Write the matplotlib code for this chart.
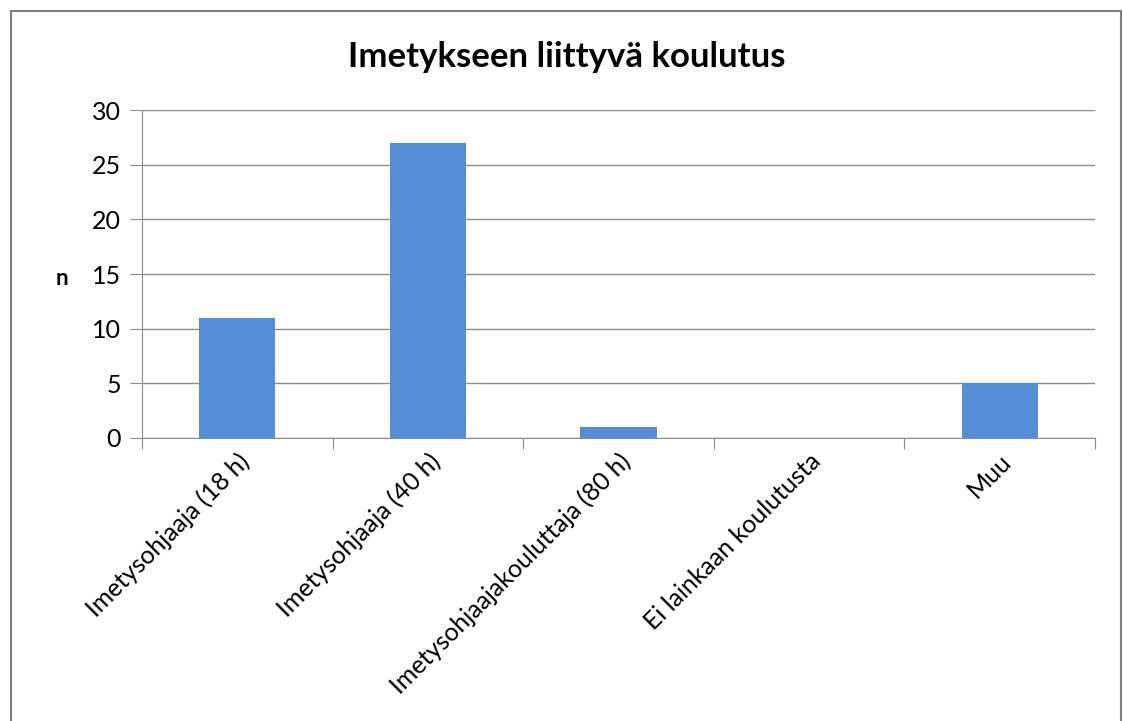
import matplotlib
matplotlib.use("Agg")
import matplotlib.pyplot as plt
from matplotlib.patches import Rectangle

categories = ["Imetysohjaaja (18 h)", "Imetysohjaaja (40 h)",
              "Imetysohjaajakouluttaja (80 h)", "Ei lainkaan koulutusta", "Muu"]
values = [11, 27, 1, 0, 5]
yticks = [0, 5, 10, 15, 20, 25, 30]

plt.rcParams['font.family'] = ['Lato', 'DejaVu Sans']

fig = plt.figure(figsize=(11.23, 7.21), dpi=100)
fig.patches.append(Rectangle((11/1123, -0.05), (1121-11)/1123, 1 - 11/721 + 0.05,
                             transform=fig.transFigure, fill=False,
                             edgecolor='#7f7f7f', linewidth=1.5))
ax = fig.add_axes([142/1123, 1 - 438/721, (1095-142)/1123, (438-110)/721])

x = list(range(len(categories)))
ax.bar(x, values, width=0.4, color='#558ED5', zorder=3)
ax.set_xlim(-0.5, len(categories) - 0.5)
ax.set_ylim(0, 30)
ax.set_yticks(yticks)
ax.set_yticklabels([str(v) for v in yticks], fontsize=18)
ax.yaxis.grid(True, color='#8c8c8c', linewidth=1, zorder=0)
ax.tick_params(axis='y', length=9, color='#8c8c8c', pad=6)

ax.set_xticks([i - 0.5 for i in range(len(categories) + 1)])
ax.set_xticklabels([])
ax.tick_params(axis='x', length=8, color='#8c8c8c')
ax.set_xticks(x, minor=True)
ax.set_xticklabels(categories, minor=True, rotation=45, ha='right',
                   rotation_mode='anchor', fontsize=18)
ax.tick_params(axis='x', which='minor', length=0, pad=8)

for s in ['top', 'right']:
    ax.spines[s].set_visible(False)
for s in ['left', 'bottom']:
    ax.spines[s].set_color('#8c8c8c')

ax.set_ylabel('n', rotation=0, fontsize=16, fontweight='bold', va='center', ha='center')
ax.yaxis.set_label_coords(-0.084, 0.485)
fig.text(567/1123, 1 - 57/721, 'Imetykseen liittyvä koulutus', ha='center', va='center',
         fontsize=25, fontweight='bold')

fig.savefig('out.png', dpi=100)
